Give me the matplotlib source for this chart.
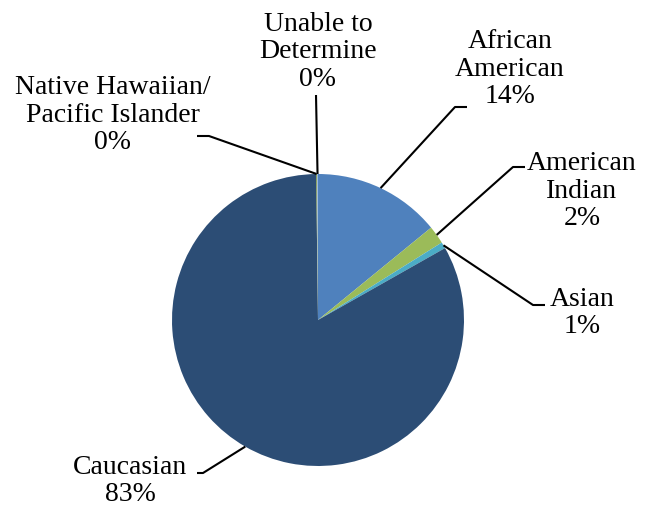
import numpy as np
import matplotlib
matplotlib.use("Agg")
import matplotlib.pyplot as plt

plt.rcParams['font.family'] = ['Liberation Serif', 'DejaVu Serif']

# share of cases by race, clockwise from 12 o'clock
labels = ['African\nAmerican', 'American\nIndian', 'Asian', 'Caucasian',
          'Native Hawaiian/\nPacific Islander', 'Unable to\nDetermine']
values = [14.1, 2.0, 0.7, 83.0, 0.1, 0.1]
colors = ['#4F81BD', '#9BBB59', '#4BACC6', '#2C4D75', '#77933C', '#95B3D7']

# label block centres and leader elbows, in pixels of the 646x507 canvas
label_xy = [(510, 69), (582, 191), (582, 313), (130, 481), (113, 115), (318, 52)]
elbows = [[(455, 107), (467, 107)],
          [(513, 167), (525, 167)],
          [(533, 305), (545, 305)],
          [(203, 473), (197, 473)],
          [(209, 136), (197, 136)],
          [(316, 95), (316, 95)]]

W, H = 646, 507
cx, cy, R = 318, 320, 146

fig = plt.figure(figsize=(W / 100, H / 100), dpi=100)
ax = fig.add_axes([0, 0, 1, 1])


def px(x, y):
    # pixel position -> data units (pie radius = 1)
    return (x - cx) / R, (cy - y) / R


wedges, _ = ax.pie(values, colors=colors, startangle=90, counterclock=False,
                   radius=1, center=(0, 0), wedgeprops=dict(linewidth=0))

for w, lab, val, (lx, ly), elb in zip(wedges, labels, values, label_xy, elbows):
    ang = np.deg2rad((w.theta1 + w.theta2) / 2)
    sx, sy = np.cos(ang), np.sin(ang)
    pts = [(sx, sy)] + [px(*p) for p in elb]
    ax.plot([p[0] for p in pts], [p[1] for p in pts], color='black', lw=1.5,
            solid_capstyle='butt', zorder=3)
    tx, ty = px(lx, ly)
    ax.text(tx, ty, f"{lab}\n{round(val):.0f}%", ha='center', va='center',
            fontsize=20, linespacing=1.12, multialignment='center')

ax.set_xlim(-cx / R, (W - cx) / R)
ax.set_ylim((cy - H) / R, cy / R)
ax.set_aspect('equal')
ax.axis('off')

fig.savefig('out.png', dpi=100)
